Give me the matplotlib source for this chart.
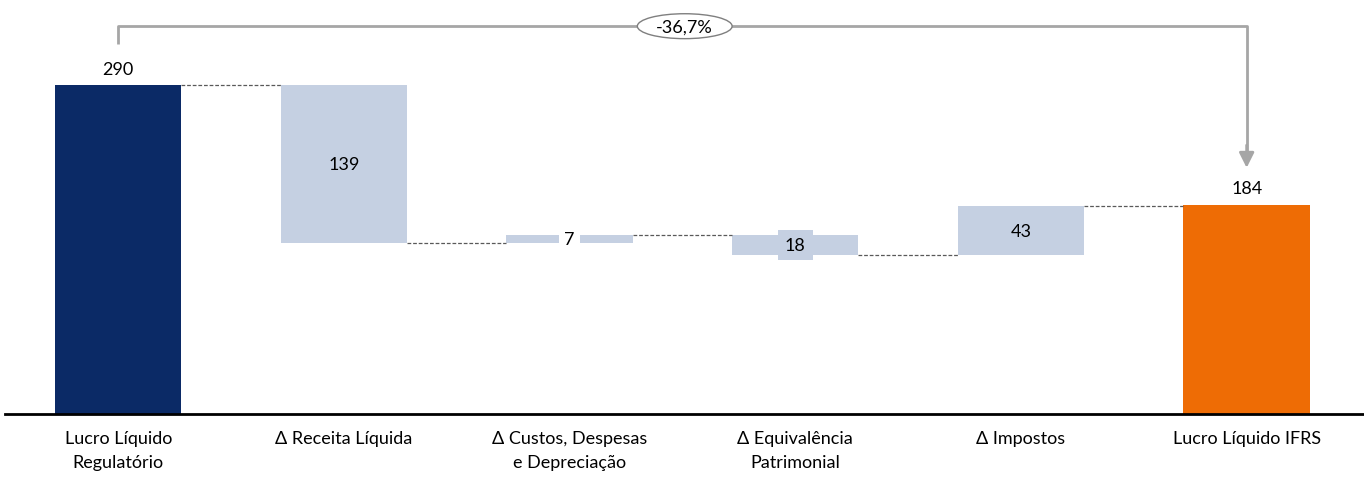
import matplotlib.pyplot as plt
from matplotlib.patches import Ellipse

plt.rcParams['font.family'] = ['Lato', 'DejaVu Sans']

# Data
categories = ["Lucro Líquido\nRegulatório", "Δ Receita Líquida", "Δ Custos, Despesas\ne Depreciação",
              "Δ Equivalência\nPatrimonial", "Δ Impostos", "Lucro Líquido IFRS"]
start_value = 290
deltas = [-139, 7, -18, 43]
end_value = 184
variation_label = "-36,7%"

navy = "#0B2A66"
light = "#C5D0E2"
orange = "#EE6C05"
grey = "#A6A6A6"

fig = plt.figure(figsize=(13.64, 4.85), dpi=100)
ax = fig.add_axes([0.004, 0.145, 0.996, 0.855])

width = 0.56
n = len(categories)

# first and last bars
ax.bar(0, start_value, width, color=navy)
ax.bar(n - 1, end_value, width, color=orange)
ax.text(0, start_value + 7, str(start_value), ha="center", va="bottom", fontsize=13)
ax.text(n - 1, end_value + 8, str(end_value), ha="center", va="bottom", fontsize=13)

# floating bars
level = start_value
levels = [level]
for i, d in enumerate(deltas, start=1):
    new = level + d
    lo, hi = min(level, new), max(level, new)
    ax.bar(i, hi - lo, width, bottom=lo, color=light)
    mid = (lo + hi) / 2
    if hi - lo < 15:
        ax.text(i, mid, str(abs(d)), ha="center", va="center", fontsize=13,
                bbox=dict(boxstyle="square,pad=0.3", fc="white", ec="none"))
    elif hi - lo < 25:
        ax.text(i, mid, str(abs(d)), ha="center", va="center", fontsize=13,
                bbox=dict(boxstyle="square,pad=0.4", fc=light, ec="none"))
    else:
        ax.text(i, mid, str(abs(d)), ha="center", va="center", fontsize=13)
    level = new
    levels.append(level)

# connectors
for i, lv in enumerate(levels):
    ax.plot([i + width / 2, i + 1 - width / 2], [lv, lv], ls=(0, (3, 1.5)),
            color="#595959", lw=0.9)

# bracket arrow
top = 342
ax.plot([0, 0, n - 1, n - 1], [326, top, top, 232], color=grey, lw=2, solid_capstyle="butt")
ax.annotate("", xy=(n - 1, 217), xytext=(n - 1, 237),
            arrowprops=dict(arrowstyle="-|>,head_length=0.9,head_width=0.45", color=grey, lw=2,
                            shrinkA=0, shrinkB=0))
xm = 2.5 + 0.01
ax.add_patch(Ellipse((xm, top), 0.42, 22, fc="white", ec="#7F7F7F", lw=1, zorder=3))
ax.text(xm, top, variation_label, ha="center", va="center", fontsize=13, zorder=4)

ax.set_xlim(-0.5, n - 0.48)
ax.set_ylim(0, 366)
ax.set_xticks(range(n))
ax.set_xticklabels(categories, fontsize=13, linespacing=1.6)
ax.tick_params(axis="x", length=0, pad=12)
ax.set_yticks([])
for s in ["top", "right", "left"]:
    ax.spines[s].set_visible(False)
ax.spines["bottom"].set_linewidth(2)

fig.savefig("out.png", dpi=100)
